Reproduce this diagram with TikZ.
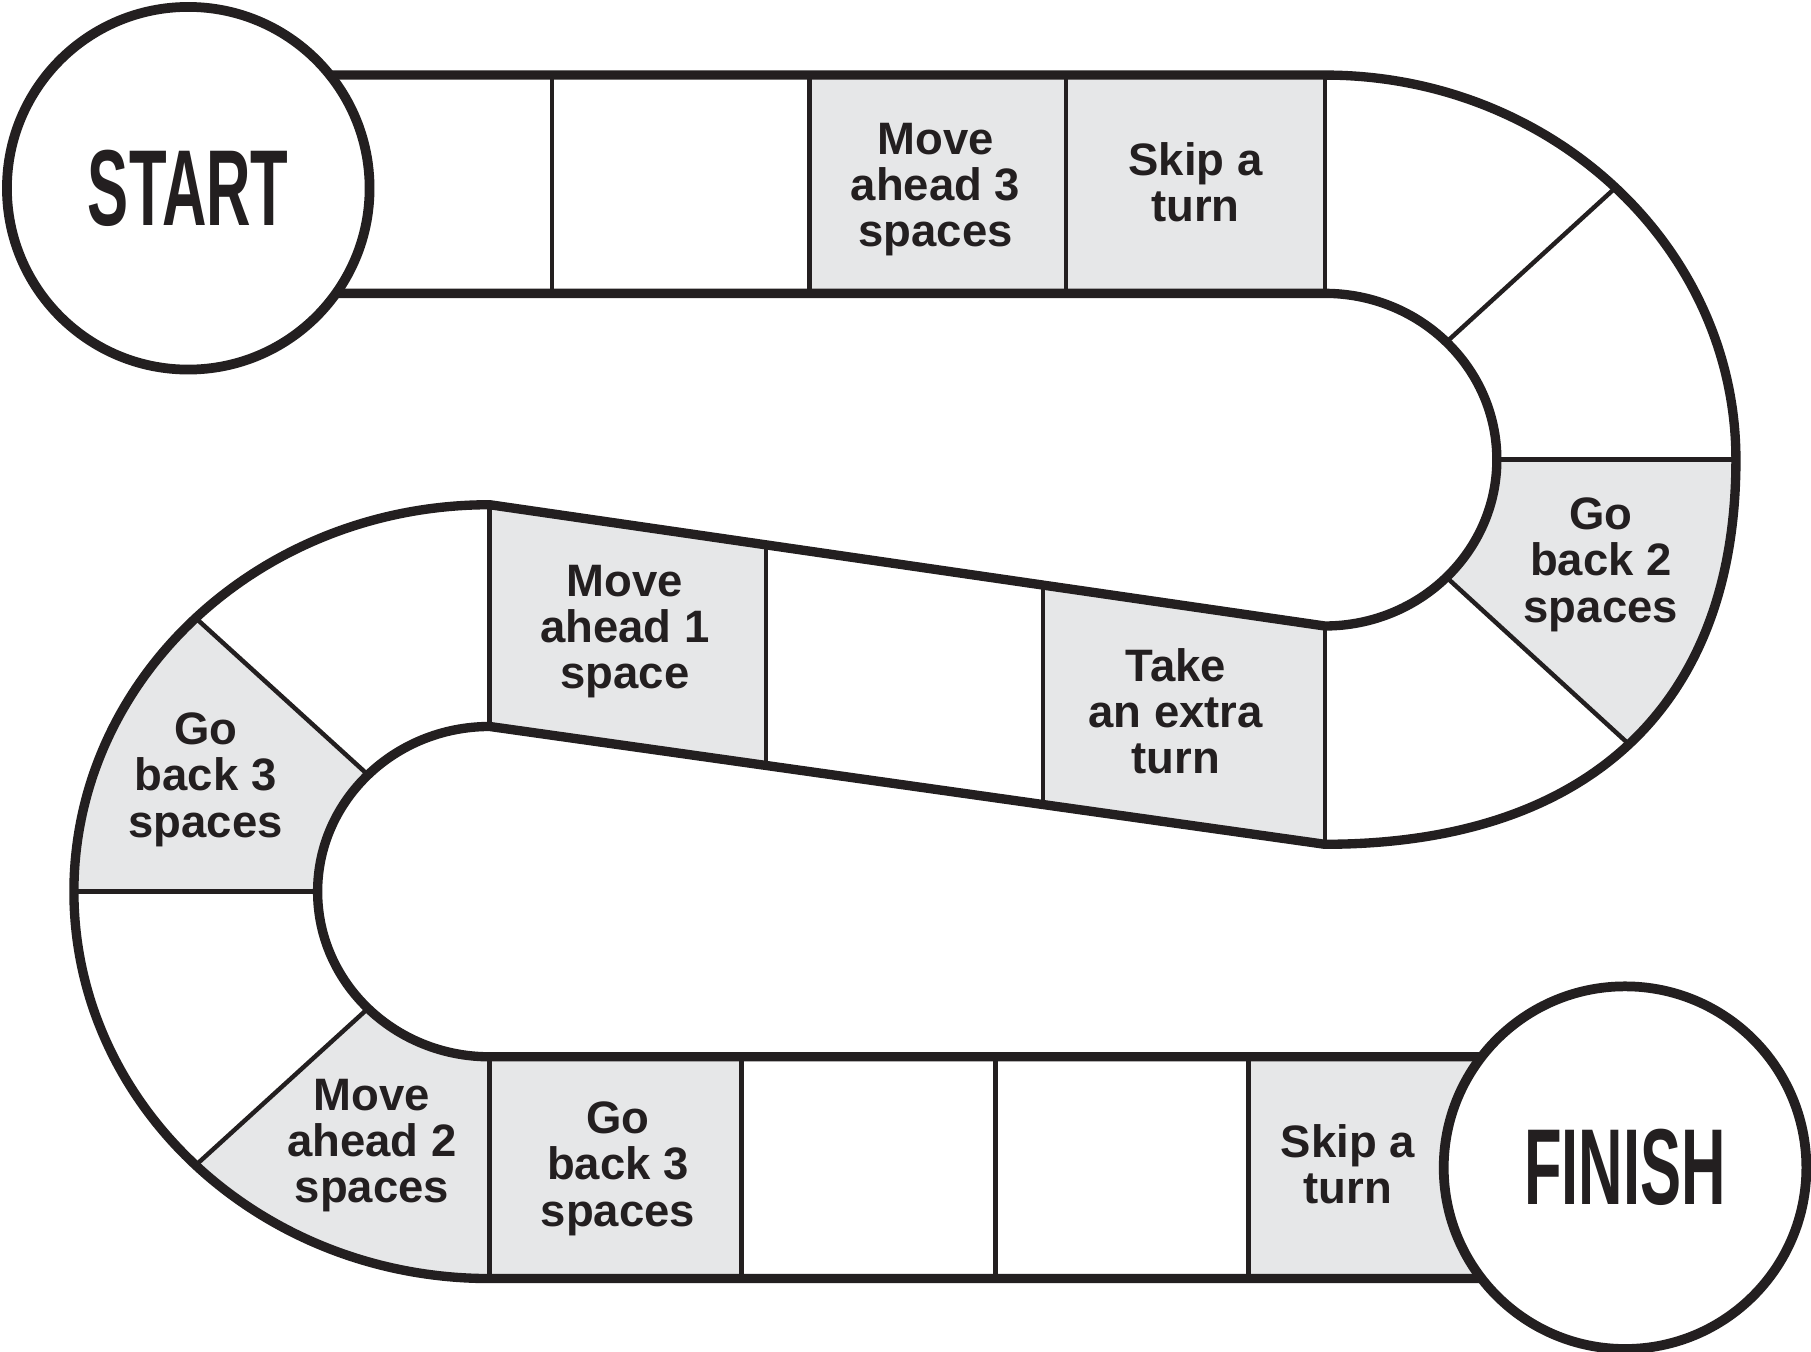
\documentclass[tikz,border=0pt]{standalone}
\usepackage{fontspec}
\setmainfont{Liberation Sans}
\newfontfamily\tallfont[FakeStretch=0.57]{Liberation Sans}
\usetikzlibrary{calc}
\definecolor{ink}{HTML}{231F20}
\definecolor{cellgray}{HTML}{E6E7E8}

\begin{document}
\begin{tikzpicture}[x=0.1mm,y=0.1mm,
board/.style={draw=ink,line width=2.3pt},
divider/.style={draw=ink,line width=1.1pt},
shaded/.style={fill=cellgray},
cell/.style={align=center,text=ink,inner sep=0pt,
  font=\bfseries\fontsize{11.2}{11.4}\selectfont},
endcircle/.style={circle,draw=ink,line width=2.4pt,fill=white,
  minimum size=31.4mm,inner sep=0pt,text=ink,
  font=\tallfont\bfseries\fontsize{26.6}{27}\selectfont}]

\useasboundingbox[fill=white] (0,0) rectangle (1568,1170);

% track corners
\coordinate (tl) at (163,1105);
\coordinate (tr) at (1147,1105);
\coordinate (bl) at (163,916);
\coordinate (br) at (1147,916);
\coordinate (ru) at (1147,772);
\coordinate (re) at (1503,772);
\coordinate (rm) at (1410.4,525.6);
\coordinate (st0) at (424,733);
\coordinate (st1) at (1147,628);
\coordinate (sb0) at (424,541);
\coordinate (sb1) at (1147,439);
\coordinate (lu) at (424,398);
\coordinate (ot1) at (1407,255);
\coordinate (ob1) at (1407,63);
\coordinate (mt1) at ($(st0)!0.3306!(st1)$);
\coordinate (mb1) at ($(sb0)!0.3306!(sb1)$);
\coordinate (mt2) at ($(st0)!0.6625!(st1)$);
\coordinate (mb2) at ($(sb0)!0.6625!(sb1)$);

% grey squares
\path[shaded] (701,916) rectangle (1147,1105);
\path[shaded] (re) .. controls (1503,665.5) and (1471,582.2) .. (rm)
  -- ($(ru)+(-45:149 and 144)$) arc[start angle=-45,end angle=0,x radius=149,y radius=144] -- cycle;
\path[shaded] (st0) -- (mt1) -- (mb1) -- (sb0) -- cycle;
\path[shaded] (mt2) -- (st1) -- (sb1) -- (mb2) -- cycle;
\path[shaded] ($(lu)+(135:360 and 335)$) arc[start angle=135,end angle=180,x radius=360,y radius=335]
  -- ($(lu)+(180:149 and 143)$) arc[start angle=180,end angle=135,x radius=149,y radius=143] -- cycle;
\path[shaded] ($(lu)+(225:360 and 335)$) arc[start angle=225,end angle=270,x radius=360,y radius=335]
  -- ($(lu)+(270:149 and 143)$) arc[start angle=270,end angle=225,x radius=149,y radius=143] -- cycle;
\path[shaded] (424,63) rectangle (642,255);
\path[shaded] (1081,63) rectangle (1407,255);

% dividers
\foreach \x in {478,701,923,1147}
  \draw[divider] (\x,916) -- (\x,1105);
\foreach \a in {45,0}
  \draw[divider] ($(ru)+(\a:149 and 144)$) -- ($(ru)+(\a:356 and 333)$);
\draw[divider] ($(ru)+(-45:149 and 144)$) -- (rm);
\draw[divider] (st1) -- (sb1);
\draw[divider] (mt2) -- (mb2);
\draw[divider] (mt1) -- (mb1);
\draw[divider] (st0) -- (sb0);
\foreach \a in {135,180,225}
  \draw[divider] ($(lu)+(\a:149 and 143)$) -- ($(lu)+(\a:360 and 335)$);
\foreach \x in {424,642,862,1081}
  \draw[divider] (\x,63) -- (\x,255);

% edges of the track
\draw[board] (tl) -- (tr) arc[start angle=90,end angle=0,x radius=356,y radius=333]
  .. controls (1503,558.9) and (1374.8,439) .. (sb1)
  -- (sb0) arc[start angle=90,end angle=270,x radius=149,y radius=143] -- (ot1);
\draw[board] (bl) -- (br) arc[start angle=90,end angle=-90,x radius=149,y radius=144]
  -- (st0) arc[start angle=90,end angle=270,x radius=360,y radius=335] -- (ob1);

\node[endcircle] (start) at (163,1007) {START};
\node[endcircle] (finish) at (1407,159) {FINISH};

\node[cell] (ahead3) at (810,1006) {Move\\ahead 3\\spaces};
\node[cell] (skip1) at (1035,1012) {Skip a\\turn};
\node[cell] (back2) at (1386,681) {Go\\back 2\\spaces};
\node[cell] (ahead1) at (541,623) {Move\\ahead 1\\space};
\node[cell] (extra) at (1018,554) {Take\\an extra\\turn};
\node[cell] (back3a) at (178,495) {Go\\back 3\\spaces};
\node[cell] (ahead2) at (322,178) {Move\\ahead 2\\spaces};
\node[cell] (back3b) at (535,158) {Go\\back 3\\spaces};
\node[cell] (skip2) at (1167,162) {Skip a\\turn};
\end{tikzpicture}
\end{document}
